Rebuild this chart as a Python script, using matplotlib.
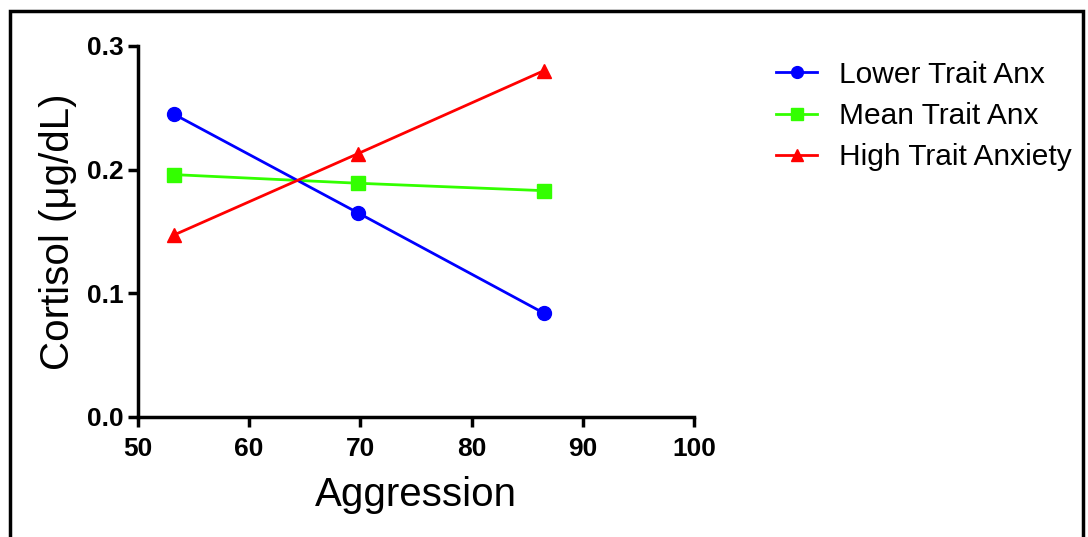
import matplotlib
matplotlib.use('Agg')
import matplotlib.pyplot as plt
from matplotlib.patches import Rectangle

plt.rcParams['font.family'] = ['Liberation Sans', 'DejaVu Sans']

# data
aggression = [53.2, 69.8, 86.5]
lower_anx = [0.245, 0.165, 0.084]
mean_anx = [0.196, 0.189, 0.183]
high_anx = [0.147, 0.213, 0.280]

series_names = ['Lower Trait Anx', 'Mean Trait Anx', 'High Trait Anxiety']
x_ticks = [50, 60, 70, 80, 90, 100]
y_ticks = [0.0, 0.1, 0.2, 0.3]

fig = plt.figure(figsize=(10.88, 5.37), dpi=100)
ax = fig.add_axes([0.1268, 0.2235, 0.511, 0.6909])

ax.plot(aggression, lower_anx, color='#0000ff', marker='o', markersize=10,
        linewidth=2.0, label=series_names[0], zorder=3)
ax.plot(aggression, mean_anx, color='#33ff00', marker='s', markersize=10,
        linewidth=2.0, label=series_names[1], zorder=2)
ax.plot(aggression, high_anx, color='#ff0000', marker='^', markersize=10,
        linewidth=2.0, label=series_names[2], zorder=4)

ax.set_xlim(50, 100)
ax.set_ylim(0, 0.3)
ax.set_xticks(x_ticks)
ax.set_yticks(y_ticks)
ax.tick_params(direction='out', length=7.5, width=2.5, labelsize=19)
ax.tick_params(axis='x', pad=7)
ax.tick_params(axis='y', pad=3)
ax.set_xticklabels([str(t) for t in x_ticks])
ax.set_yticklabels(['%.1f' % t for t in y_ticks])
for lbl in ax.get_xticklabels() + ax.get_yticklabels():
    lbl.set_fontweight('bold')
    lbl.set_fontsize(19)

for side in ['top', 'right']:
    ax.spines[side].set_visible(False)
for side in ['left', 'bottom']:
    ax.spines[side].set_linewidth(2.5)

ax.set_xlabel('Aggression', fontsize=29, labelpad=11)
ax.set_ylabel('Cortisol (μg/dL)', fontsize=29, labelpad=7)

leg = ax.legend(loc='upper left', bbox_to_anchor=(1.1, 1.033), frameon=False,
                fontsize=21.5, handlelength=1.35, handletextpad=0.75,
                labelspacing=0.45, markerscale=0.85)

# black frame round the figure
fig.patches.append(Rectangle((0.009, -0.01), 0.986, 0.99, transform=fig.transFigure,
                             fill=False, edgecolor='black', linewidth=2.5))

fig.savefig('out.png', dpi=100)
